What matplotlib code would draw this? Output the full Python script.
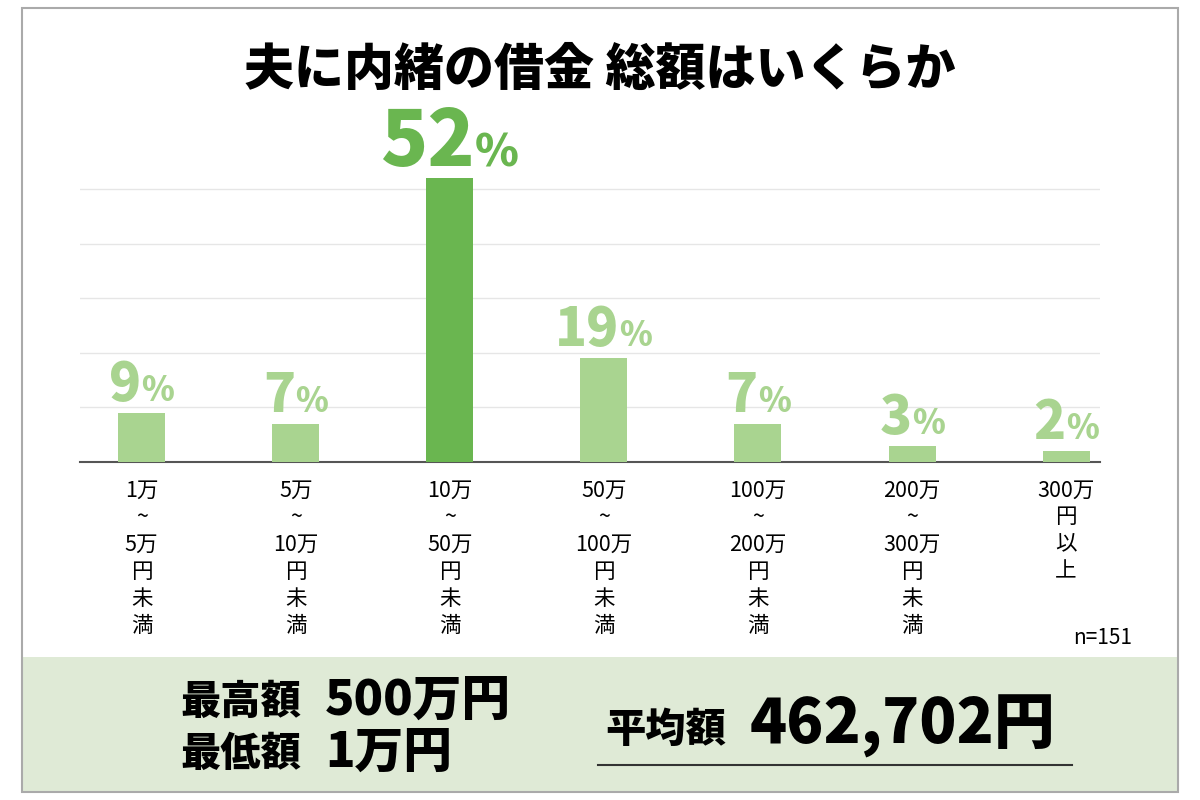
import matplotlib
matplotlib.use("Agg")
import matplotlib.pyplot as plt
from matplotlib.patches import Rectangle
from matplotlib.lines import Line2D
import matplotlib.transforms as mtransforms

plt.rcParams['font.family'] = 'Noto Sans CJK JP'

categories = ["1万\n~\n5万\n円\n未\n満", "5万\n~\n10万\n円\n未\n満", "10万\n~\n50万\n円\n未\n満",
              "50万\n~\n100万\n円\n未\n満", "100万\n~\n200万\n円\n未\n満", "200万\n~\n300万\n円\n未\n満",
              "300万\n円\n以\n上"]
values = [9, 7, 52, 19, 7, 3, 2]
highlight = 2

LIGHT = "#a9d490"
DARK = "#6ab650"

W, H = 1200, 800
fig = plt.figure(figsize=(12, 8), dpi=100)
fig.patch.set_facecolor("white")

def fx(x): return x / W
def fy(y): return 1 - y / H

fig.add_artist(Rectangle((fx(22), fy(792)), fx(1156), (792 - 657) / H, transform=fig.transFigure,
                         facecolor="#dfead6", edgecolor="none", zorder=0))
fig.add_artist(Rectangle((fx(22), fy(792)), fx(1156), (792 - 8) / H, transform=fig.transFigure,
                         facecolor="none", edgecolor="#aaaaaa", lw=1.5, zorder=1))

ax = fig.add_axes([fx(80), fy(462), fx(1020), (462 - 151) / H])
ax.set_facecolor("none")
x = list(range(len(values)))
colors = [DARK if i == highlight else LIGHT for i in x]
ax.bar(x, values, width=0.305, color=colors, zorder=3)
ax.set_xlim(-0.4, 6.22)
ax.set_ylim(0, 57)
ax.set_yticks([10, 20, 30, 40, 50])
ax.yaxis.grid(True, color="#e6e6e6", lw=1)
ax.tick_params(left=False, labelleft=False, bottom=False)
for s in ["top", "right", "left"]:
    ax.spines[s].set_visible(False)
ax.spines["bottom"].set_color("#555555")
ax.spines["bottom"].set_linewidth(1.5)
ax.set_xticks(x)
ax.set_xticklabels(categories, fontsize=15.5, linespacing=1.3, va="top")
ax.tick_params(axis="x", pad=9)

fig.canvas.draw()
r = fig.canvas.get_renderer()
for i, v in enumerate(values):
    c = DARK if i == highlight else LIGHT
    fs_n = 56 if i == highlight else 38
    fs_p = 32 if i == highlight else 24
    tn = ax.text(i, v, str(v), fontsize=fs_n, fontweight="heavy", color=c, ha="left", va="baseline")
    tp = ax.text(i, v, "%", fontsize=fs_p, fontweight="heavy", color=c, ha="left", va="baseline")
    wn = tn.get_window_extent(r).width
    wp = tp.get_window_extent(r).width
    start = -(wn + wp) / 2
    tn.set_transform(ax.transData + mtransforms.ScaledTranslation(start / 100, 12 / 100, fig.dpi_scale_trans))
    tp.set_transform(ax.transData + mtransforms.ScaledTranslation((start + wn) / 100, 12 / 100, fig.dpi_scale_trans))

fig.text(0.5, fy(70), "夫に内緒の借金 総額はいくらか", fontsize=36, fontweight="heavy", ha="center", va="center")
fig.text(fx(1132), fy(638), "n=151", fontsize=15, ha="right", va="center")
fig.text(fx(180), fy(702), "最高額", fontsize=29, fontweight="heavy", ha="left", va="center")
fig.text(fx(325), fy(700), "500万円", fontsize=35, fontweight="heavy", ha="left", va="center")
fig.text(fx(180), fy(754), "最低額", fontsize=29, fontweight="heavy", ha="left", va="center")
fig.text(fx(325), fy(752), "1万円", fontsize=35, fontweight="heavy", ha="left", va="center")
fig.text(fx(605), fy(730), "平均額", fontsize=29, fontweight="heavy", ha="left", va="center")
fig.text(fx(750), fy(726), "462,702円", fontsize=44, fontweight="heavy", ha="left", va="center")
fig.add_artist(Line2D([fx(598), fx(1072)], [fy(765), fy(765)], transform=fig.transFigure, color="#333333", lw=1.5))

fig.savefig("out.png", dpi=100)
